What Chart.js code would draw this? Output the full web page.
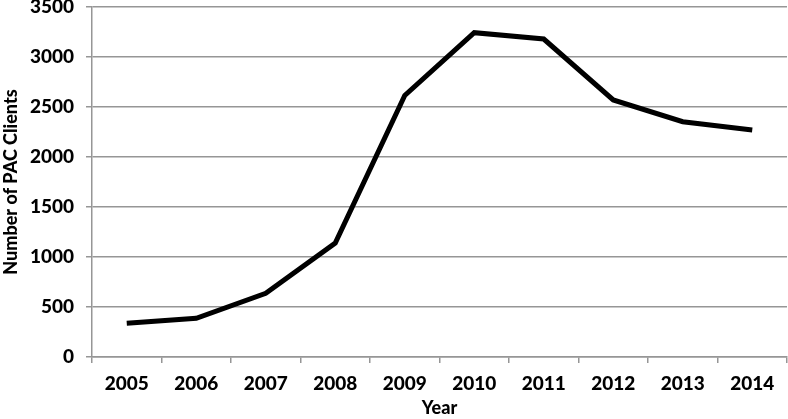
<!DOCTYPE html>
<html>
<head>
<meta charset="utf-8">
<script src="https://cdn.jsdelivr.net/npm/chart.js@4"></script>
<style>
  html, body { margin: 0; padding: 0; background: #fff; }
  #wrap { width: 788px; height: 419px; }
</style>
</head>
<body>
<div id="wrap"><canvas id="pacChart"></canvas></div>
<script>
var years = ['2005', '2006', '2007', '2008', '2009', '2010', '2011', '2012', '2013', '2014'];
var pacClients = [337, 387, 637, 1140, 2615, 3243, 3180, 2570, 2353, 2270];
var yTicks = [0, 500, 1000, 1500, 2000, 2500, 3000, 3500];

var gridGray = 'rgba(150, 150, 150, 1)';
var fontName = 'Lato, "Open Sans", sans-serif';

var ctx = document.getElementById('pacChart').getContext('2d');

var chart = new Chart(ctx, {
    type: 'line',
    data: {
        labels: years,
        datasets: [{
            label: 'Number of PAC Clients',
            data: pacClients,
            borderColor: '#000',
            borderWidth: 5,
            pointRadius: 0,
            tension: 0,
            fill: false
        }]
    },
    options: {
        responsive: true,
        maintainAspectRatio: false,
        animation: false,
        layout: { padding: { top: 7, right: 1, left: 0, bottom: 0 } },
        scales: {
            x: {
                offset: true,
                grid: {
                    offset: true,
                    drawOnChartArea: false,
                    color: gridGray,
                    lineWidth: 1.5,
                    tickLength: 6
                },
                border: { color: gridGray, width: 1.5 },
                ticks: {
                    color: '#000',
                    padding: 9,
                    maxRotation: 0,
                    font: { family: fontName, weight: 900, size: 19 }
                },
                title: {
                    display: true,
                    text: 'Year',
                    color: '#000',
                    padding: { top: 3, bottom: 0 },
                    font: { family: fontName, weight: 900, size: 18 }
                },
                afterFit: function (scale) {
                    scale.height = 62;
                    scale.paddingLeft = 0;
                    scale.paddingRight = 0;
                }
            },
            y: {
                min: 0,
                max: 3500,
                afterBuildTicks: function (scale) {
                    scale.ticks = yTicks.map(function (v) { return { value: v }; });
                },
                grid: {
                    color: gridGray,
                    lineWidth: 1.5,
                    tickLength: 6
                },
                border: { color: gridGray, width: 1.5 },
                ticks: {
                    color: '#000',
                    padding: 12,
                    font: { family: fontName, weight: 900, size: 19 },
                    callback: function (v) { return String(v); }
                },
                title: {
                    display: true,
                    text: 'Number of PAC Clients',
                    color: '#000',
                    padding: { top: 0, bottom: 2 },
                    font: { family: fontName, weight: 900, size: 18 }
                },
                afterFit: function (scale) {
                    scale.width = 92;
                    scale.paddingTop = 0;
                    scale.paddingBottom = 0;
                }
            }
        },
        plugins: {
            legend: { display: false },
            tooltip: { enabled: false }
        }
    }
});
</script>
</body>
</html>
